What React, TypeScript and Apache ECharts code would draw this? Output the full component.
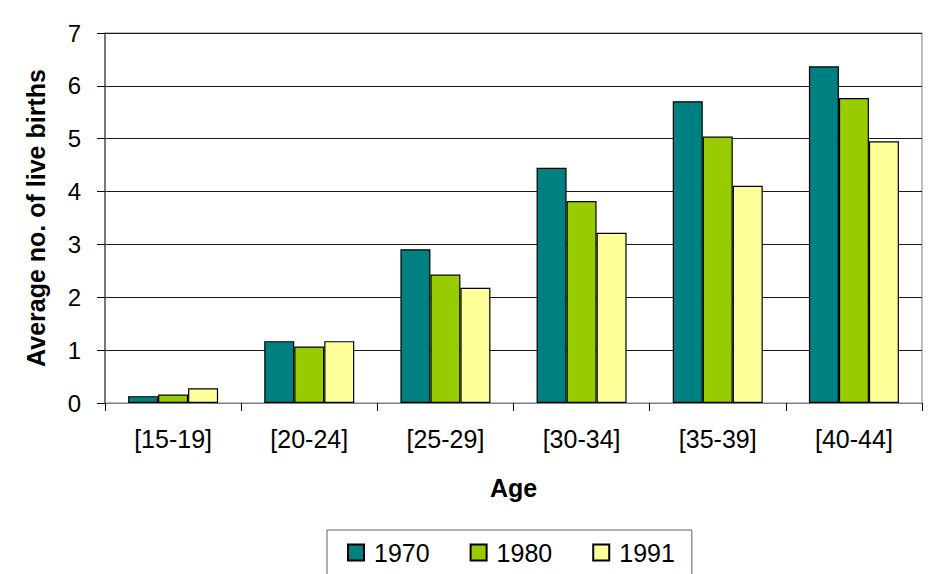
import React, { useEffect, useRef } from "react";
import * as echarts from "echarts";

const categories = ["[15-19]", "[20-24]", "[25-29]", "[30-34]", "[35-39]", "[40-44]"];
const seriesNames = ["1970", "1980", "1991"];
const values1970 = [0.13, 1.17, 2.91, 4.45, 5.71, 6.37];
const values1980 = [0.16, 1.07, 2.43, 3.82, 5.04, 5.77];
const values1991 = [0.28, 1.17, 2.18, 3.22, 4.11, 4.95];
const colors = ["#008080", "#99CC00", "#FFFF99"];

const FONT = "Arial, 'Liberation Sans', sans-serif";

export default function App() {
  const ref = useRef<HTMLDivElement>(null);
  useEffect(() => {
    document.body.style.margin = "0";
    const chart = echarts.init(ref.current!, null, { renderer: "svg" });
    const data = [values1970, values1980, values1991];
    chart.setOption({
      animation: false,
      backgroundColor: "#ffffff",
      textStyle: { fontFamily: FONT, color: "#000" },
      grid: {
        left: 105,
        right: 11,
        top: 33,
        bottom: 171,
        show: true,
        borderColor: "#808080",
        borderWidth: 1,
      },
      legend: {
        data: seriesNames,
        left: 327,
        top: 530,
        itemWidth: 16,
        itemHeight: 16,
        itemGap: 40,
        icon: "rect",
        padding: [10, 17, 30, 20],
        borderColor: "#606060",
        borderWidth: 1,
        textStyle: { fontSize: 25, fontFamily: FONT, color: "#000", padding: [0, 0, 0, 5] },
      },
      xAxis: {
        type: "category",
        data: categories,
        name: "Age",
        nameLocation: "middle",
        nameGap: 72,
        nameTextStyle: { fontSize: 25, fontWeight: "bold", fontFamily: FONT, color: "#000" },
        axisLine: { lineStyle: { color: "#808080", width: 1 } },
        axisTick: { show: true, length: 8, lineStyle: { color: "#000" } },
        axisLabel: { fontSize: 25, margin: 23, color: "#000", fontFamily: FONT, interval: 0 },
      },
      yAxis: {
        type: "value",
        min: 0,
        max: 7,
        interval: 1,
        name: "Average no. of live births",
        nameLocation: "middle",
        nameGap: 57,
        nameTextStyle: { fontSize: 25, fontWeight: "bold", fontFamily: FONT, color: "#000" },
        axisLine: { show: true, lineStyle: { color: "#606060", width: 1.5 } },
        axisTick: { show: true, length: 8, lineStyle: { color: "#000" } },
        axisLabel: { fontSize: 24, margin: 24, color: "#000", fontFamily: FONT },
        splitLine: { show: true, lineStyle: { color: "#1a1a1a", width: 1 } },
      },
      series: seriesNames.map((name, i) => ({
        name,
        type: "bar",
        data: data[i],
        barWidth: 30,
        barGap: "0%",
        itemStyle: { color: colors[i], borderColor: "#000", borderWidth: 1.2 },
      })),
    });
    return () => chart.dispose();
  }, []);
  return <div ref={ref} style={{ position: "fixed", left: 0, top: 0, width: 933, height: 574 }} />;
}
